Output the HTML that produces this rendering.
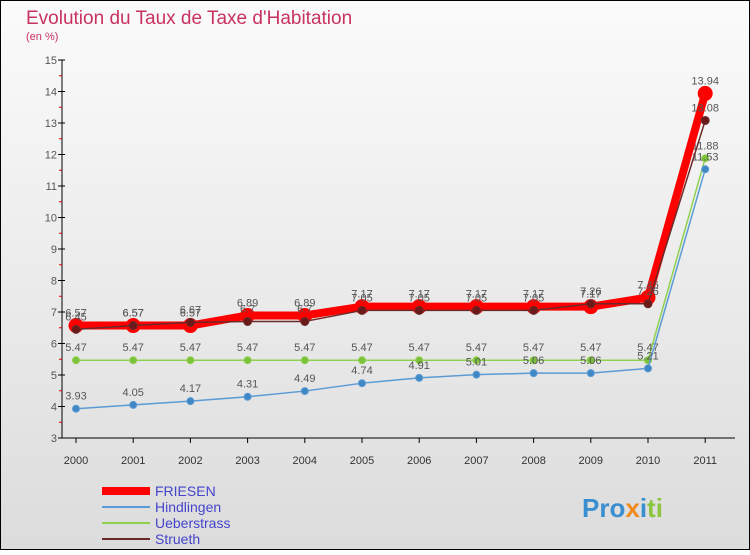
<!DOCTYPE html>
<html><head><meta charset="utf-8"><style>
body{margin:0;width:750px;height:550px;overflow:hidden;font-family:"Liberation Sans",sans-serif}
</style></head><body>
<svg width="750" height="550" viewBox="0 0 750 550" xmlns="http://www.w3.org/2000/svg" font-family="Liberation Sans, sans-serif">
<defs><linearGradient id="bg" x1="0" y1="0" x2="0" y2="1"><stop offset="0" stop-color="#fbfbfb"/><stop offset="1" stop-color="#dcdcdc"/></linearGradient></defs>
<rect x="0.5" y="0.5" width="749" height="549" fill="url(#bg)" stroke="#000"/>
<text x="26" y="24" font-size="19" fill="#c8325f">Evolution du Taux de Taxe d'Habitation</text>
<text x="26" y="40" font-size="11" fill="#c8325f">(en %)</text>
<g id="axes"></g>
<g id="series"></g>
<g id="legend"></g>
<text x="582" y="517" font-size="26" font-weight="bold"><tspan fill="#3a8fd0">Pro</tspan><tspan fill="#f08a1c">x</tspan><tspan fill="#3a8fd0">i</tspan><tspan fill="#8cc63f">ti</tspan></text>
</svg>
<script>
const years=[2000,2001,2002,2003,2004,2005,2006,2007,2008,2009,2010,2011];
const friesen=[6.57,6.57,6.57,6.89,6.89,7.17,7.17,7.17,7.17,7.17,7.46,13.94];
const hindlingen=[3.93,4.05,4.17,4.31,4.49,4.74,4.91,5.01,5.06,5.06,5.21,11.53];
const ueberstrass=[5.47,5.47,5.47,5.47,5.47,5.47,5.47,5.47,5.47,5.47,5.47,11.88];
const strueth=[6.45,6.57,6.67,6.7,6.7,7.05,7.05,7.05,7.05,7.26,7.26,13.08];
const yTicks=[3,4,5,6,7,8,9,10,11,12,13,14,15];
const NS="http://www.w3.org/2000/svg";
const X=i=>76+i*57.2, Y=v=>438-(v-3)*31.5;
function mk(t,a,p){const e=document.createElementNS(NS,t);for(const k in a)e.setAttribute(k,a[k]);p.appendChild(e);return e;}
const ax=document.getElementById('axes');
const yl=mk('line',{x1:62,y1:60,x2:62,y2:438,stroke:'#000'},ax);


const xl=mk('line',{x1:62,y1:438,x2:735,y2:438,stroke:'#000'},ax);


yTicks.forEach(v=>{
 mk('line',{x1:58,y1:Y(v),x2:65,y2:Y(v),stroke:'#000'},ax);
 if(v<15)mk('line',{x1:59,y1:Y(v+0.5),x2:62,y2:Y(v+0.5),stroke:'#d00'},ax);
 const t=mk('text',{x:57,y:Y(v)+4,'font-size':11,fill:'#555','text-anchor':'end'},ax);t.textContent=v;
 
 
});
years.forEach((y,i)=>{
 mk('line',{x1:X(i),y1:438,x2:X(i),y2:443,stroke:'#000'},ax);
 const t=mk('text',{x:X(i),y:464,'font-size':11,fill:'#333','text-anchor':'middle'},ax);t.textContent=y;
 
 
});
const sg=document.getElementById('series');
function draw(name,data,color,w,r,mcol,lblAbove){
 const g=mk('g',{},sg);
 
 
 mk('polyline',{points:data.map((v,i)=>X(i)+','+Y(v)).join(' '),fill:'none',stroke:color,'stroke-width':w,'stroke-linejoin':'round'},g);
 data.forEach((v,i)=>{
  const c=mk('circle',{cx:X(i),cy:Y(v),r:r,fill:mcol,stroke:color,'stroke-width':1},g);
  
  
  const t=mk('text',{x:X(i),y:Y(v)+(lblAbove?-9:-9),'font-size':11,fill:'#555','text-anchor':'middle'},g);
  t.textContent=v.toFixed(2).replace(/0$/,'').replace(/\.$/,'');
  if(v%1===0)t.textContent=v;
  
  
 });
}
draw('ueberstrass',ueberstrass,'#8fd14f',1.5,3.5,'#7cc13a',true);
draw('hindlingen',hindlingen,'#5b9bd5',1.5,3.5,'#3f88c5',true);
draw('friesen',friesen,'#f00',8,7,'#f00',true);
draw('strueth',strueth,'#6b2a2a',1.5,4,'#6b1a1a',true);
const lg=document.getElementById('legend');
[['FRIESEN','#f00',8],['Hindlingen','#5b9bd5',2],['Ueberstrass','#8fd14f',2],['Strueth','#6b2a2a',2]].forEach((e,i)=>{
 const y=491+i*16;
 const g=mk('g',{},lg);
 
 
 mk('line',{x1:102,y1:y,x2:150,y2:y,stroke:e[1],'stroke-width':e[2]},g);
 const t=mk('text',{x:155,y:y+5,'font-size':14,fill:'#4444cc'},g);t.textContent=e[0];
});
</script>
</body></html>
